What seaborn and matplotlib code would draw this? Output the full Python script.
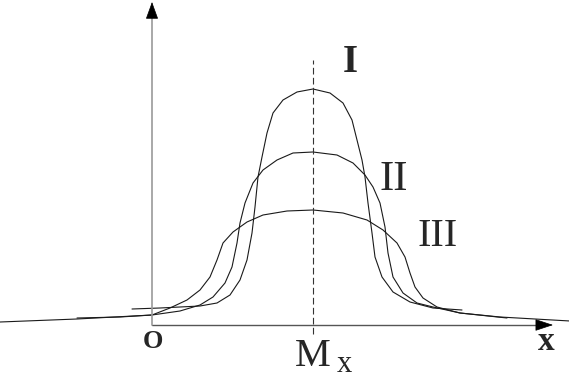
import matplotlib
matplotlib.use("Agg")
import matplotlib.pyplot as plt
import seaborn as sns
import pandas as pd

# Schematic profile curves: x measured from origin O, height above the x axis
curve_I_x = [-20, 8, 48, 65, 78, 88, 95, 100, 103, 106, 110, 115, 121, 131, 145, 161,
             178, 191, 200, 205, 210, 213, 216, 220, 223, 230, 241, 258, 281, 310]
curve_I_y = [16, 17, 19, 22, 30, 45, 65, 92, 118, 148, 168, 192, 212, 225, 233, 236,
             232, 222, 205, 185, 165, 148, 122, 92, 68, 48, 33, 23, 17, 15]

curve_II_x = [-75, -32, 0, 28, 48, 61, 73, 80, 85, 88, 93, 101, 111, 125, 141, 161,
              185, 201, 213, 221, 228, 233, 236, 241, 251, 265, 281, 308, 355]
curve_II_y = [7, 8, 10, 14, 20, 28, 42, 58, 82, 102, 122, 142, 155, 165, 172, 173,
              170, 162, 150, 138, 122, 98, 72, 48, 32, 22, 18, 12, 7]

curve_III_x = [-152, -75, 0, 18, 35, 48, 58, 65, 71, 81, 95, 111, 135, 161,
               191, 215, 231, 245, 253, 258, 263, 271, 285, 308, 348, 418]
curve_III_y = [3, 6, 10, 17, 25, 35, 48, 65, 82, 93, 103, 110, 114, 115,
               112, 105, 95, 82, 68, 52, 38, 27, 18, 12, 8, 4]

curve_labels = ["I", "II", "III"]
mx = 161          # position of M_x on the x axis
x_end = 401       # x-axis arrow tip
y_end = 323       # y-axis arrow tip

sns.set_style("white")
plt.rcParams["font.family"] = ["Liberation Serif", "DejaVu Serif"]

fig = plt.figure(figsize=(5.69, 3.77), dpi=100)
ax = fig.add_axes([0, 0, 1, 1])
ax.set_xlim(-152, 417)
ax.set_ylim(-52, 325)
ax.axis("off")

frames = []
for name, xs, ys in [("I", curve_I_x, curve_I_y),
                     ("II", curve_II_x, curve_II_y),
                     ("III", curve_III_x, curve_III_y)]:
    frames.append(pd.DataFrame({"x": xs, "y": ys, "curve": name}))
df = pd.concat(frames, ignore_index=True)

sns.lineplot(data=df, x="x", y="y", units="curve", estimator=None, sort=False,
             color="#1a1a1a", lw=0.8, ax=ax, legend=False)

# axes
ax.plot([0, x_end - 10], [0, 0], color="#555555", lw=1.0)
ax.plot([0, 0], [0, y_end - 10], color="#9a9a9a", lw=1.2)
ax.annotate("", xy=(x_end, 0), xytext=(x_end - 16, 0),
            arrowprops=dict(arrowstyle="-|>,head_length=1.15,head_width=0.38",
                            color="black", lw=0.5, shrinkA=0, shrinkB=0))
ax.annotate("", xy=(0, y_end), xytext=(0, y_end - 15),
            arrowprops=dict(arrowstyle="-|>,head_length=1.1,head_width=0.4",
                            color="black", lw=0.5, shrinkA=0, shrinkB=0))

# dashed line through M_x
ax.plot([mx, mx], [-9, 265], color="#333333", lw=0.8, linestyle=(0, (6, 3)))

# labels
ax.text(198, 263, curve_labels[0], fontsize=28, fontweight="bold", ha="center", va="center")
ax.text(242, 145, curve_labels[1], fontsize=31, ha="center", va="center")
ax.text(286, 89, curve_labels[2], fontsize=29, ha="center", va="center")
ax.text(1, -16, "O", fontsize=19, fontweight="bold", ha="center", va="center")
ax.text(394, -17, "x", fontsize=24, fontweight="bold", ha="center", va="center")
ax.text(161, -31, "M", fontsize=29, ha="center", va="center")
ax.text(192, -39, "x", fontsize=22, ha="center", va="center")

fig.savefig("out.png", dpi=100, facecolor="white")
